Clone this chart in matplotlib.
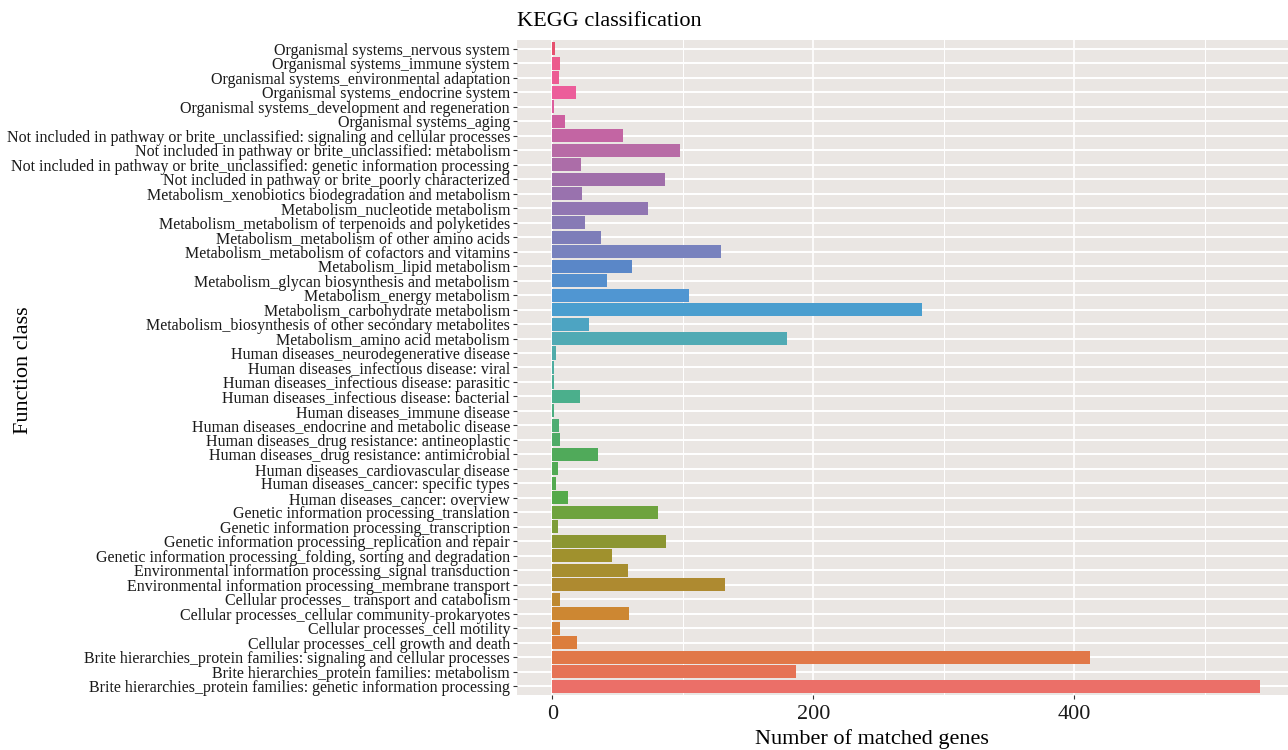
import matplotlib
matplotlib.use("Agg")
import matplotlib.pyplot as plt
import numpy as np

# categories as shown, top to bottom
categories = [
    "Organismal systems_nervous system",
    "Organismal systems_immune system",
    "Organismal systems_environmental adaptation",
    "Organismal systems_endocrine system",
    "Organismal systems_development and regeneration",
    "Organismal systems_aging",
    "Not included in pathway or brite_unclassified: signaling and cellular processes",
    "Not included in pathway or brite_unclassified: metabolism",
    "Not included in pathway or brite_unclassified: genetic information processing",
    "Not included in pathway or brite_poorly characterized",
    "Metabolism_xenobiotics biodegradation and metabolism",
    "Metabolism_nucleotide metabolism",
    "Metabolism_metabolism of terpenoids and polyketides",
    "Metabolism_metabolism of other amino acids",
    "Metabolism_metabolism of cofactors and vitamins",
    "Metabolism_lipid metabolism",
    "Metabolism_glycan biosynthesis and metabolism",
    "Metabolism_energy metabolism",
    "Metabolism_carbohydrate metabolism",
    "Metabolism_biosynthesis of other secondary metabolites",
    "Metabolism_amino acid metabolism",
    "Human diseases_neurodegenerative disease",
    "Human diseases_infectious disease: viral",
    "Human diseases_infectious disease: parasitic",
    "Human diseases_infectious disease: bacterial",
    "Human diseases_immune disease",
    "Human diseases_endocrine and metabolic disease",
    "Human diseases_drug resistance: antineoplastic",
    "Human diseases_drug resistance: antimicrobial",
    "Human diseases_cardiovascular disease",
    "Human diseases_cancer: specific types",
    "Human diseases_cancer: overview",
    "Genetic information processing_translation",
    "Genetic information processing_transcription",
    "Genetic information processing_replication and repair",
    "Genetic information processing_folding, sorting and degradation",
    "Environmental information processing_signal transduction",
    "Environmental information processing_membrane transport",
    "Cellular processes_ transport and catabolism",
    "Cellular processes_cellular community-prokaryotes",
    "Cellular processes_cell motility",
    "Cellular processes_cell growth and death",
    "Brite hierarchies_protein families: signaling and cellular processes",
    "Brite hierarchies_protein families: metabolism",
    "Brite hierarchies_protein families: genetic information processing",
]

genes = [2, 6, 5, 18, 1, 10, 54, 98, 22, 86, 23, 73, 25, 37,
         129, 61, 42, 105, 283, 28, 180,
         3, 1, 1, 21, 1, 5, 6, 35, 4, 3, 12,
         81, 4, 87, 46, 58, 132,
         6, 59, 6, 19,
         412, 187, 542]

x_ticks = [0, 200, 400]

# colour ramp (muted hue wheel), anchors, bottom bar first
ramp_pos = [0, 1, 2, 3, 5, 7, 9, 10, 12, 13, 16, 20, 24, 26, 27, 29, 30,
            31, 33, 35, 37, 39, 41, 43, 44]
ramp_rgb = [(235, 111, 104), (230, 115, 85), (225, 120, 72), (220, 125, 60),
            (205, 135, 50), (174, 138, 48), (160, 145, 45), (140, 150, 50),
            (110, 163, 62), (85, 170, 75), (80, 170, 90), (75, 175, 140),
            (80, 170, 180), (74, 158, 207), (80, 150, 210), (90, 135, 200),
            (120, 130, 190), (125, 125, 185), (145, 118, 178), (160, 110, 170),
            (184, 107, 166), (205, 95, 160), (236, 93, 154), (236, 90, 140),
            (230, 80, 110)]

n = len(categories)
ramp_rgb = np.array(ramp_rgb) / 255.0
idx = np.arange(n)
colors = np.column_stack([np.interp(idx, ramp_pos, ramp_rgb[:, k]) for k in range(3)])

cat_bottom_up = categories[::-1]
genes_bottom_up = genes[::-1]

plt.rcParams['font.family'] = ['Liberation Serif', 'DejaVu Serif']

fig = plt.figure(figsize=(12.88, 7.5), dpi=100)
ax = fig.add_axes([517 / 1288, 1 - 695 / 750, (1295 - 517) / 1288, 655 / 750])
ax.set_facecolor('#EAE6E3')

xmax = max(genes)
ax.set_xlim(-0.05 * xmax, xmax * 1.05)
ax.set_ylim(-0.6, n - 0.4)

# grid
for xv in [100, 300, 500]:
    ax.axvline(xv, color='white', lw=0.7, zorder=0)
for xv in x_ticks:
    ax.axvline(xv, color='white', lw=1.2, zorder=0)
for yv in range(n):
    ax.axhline(yv, color='white', lw=1.4, zorder=0)

ax.barh(idx, genes_bottom_up, height=0.9, color=colors, zorder=2)

ax.set_yticks(idx)
ax.set_yticklabels(cat_bottom_up, fontsize=11.5, color='#1a1a1a')
ax.set_xticks(x_ticks)
ax.set_xticklabels([str(v) for v in x_ticks], fontsize=16, color='#1a1a1a')
ax.tick_params(axis='y', length=3, width=0.8, color='#333333', pad=2)
ax.tick_params(axis='x', length=3, width=0.8, color='#333333', pad=4)
for s in ax.spines.values():
    s.set_visible(False)

fig.text(517 / 1288, 1 - 21 / 750, "KEGG classification", fontsize=16,
         ha='left', va='center')
fig.text(872 / 1288, 1 - 739 / 750, "Number of matched genes", fontsize=16,
         ha='center', va='center')
fig.text(24 / 1288, 1 - 370 / 750, "Function class", fontsize=16,
         ha='center', va='center', rotation=90)

fig.savefig("out.png", dpi=100)
